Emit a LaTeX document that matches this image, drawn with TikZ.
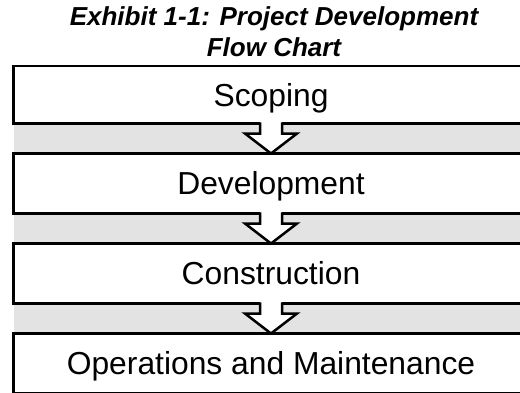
\documentclass[tikz,border=0pt]{standalone}
\usepackage{fontspec}
\setmainfont{Liberation Sans}
\usetikzlibrary{positioning,backgrounds}
\definecolor{bandgray}{RGB}{227,227,227}
\tikzset{
  stage/.style = {draw, fill=white, line width=2.5pt, outer sep=0pt, inner sep=0pt,
    minimum width=515pt, minimum height=60pt, text height=22.8pt, text depth=0pt,
    font=\fontsize{31.8}{38}\selectfont},
  band/.style = {fill=bandgray},
  hollowarrow/.style = {line width=2.5pt, miter limit=10},
}

\begin{document}
\begin{tikzpicture}[x=1pt, y=-1pt]
  \useasboundingbox (0,0) rectangle (520,392);
  \clip (0,0) rectangle (520,392);
  \node[font=\fontsize{26}{31}\selectfont\bfseries\itshape, align=center, anchor=north] (title) at (274,3) {Exhibit 1-1: Project Development\\Flow Chart};
  \node[stage, minimum height=57.5pt] (scop) at (271,94.75) {Scoping};
  \node[stage, below=30pt of scop] (dev) {Development};
  \node[stage, below=30pt of dev] (cons) {Construction};
  \node[stage, below=30pt of cons] (om) {Operations and Maintenance};
  % grey bands behind the stages
  \begin{scope}[on background layer]
    \foreach \a/\b in {scop/dev, dev/cons, cons/om}
      \fill[band] (\a.south west) rectangle (\b.north east);
  \end{scope}
  % hollow arrows from one stage to the next
  \foreach \a in {scop, dev, cons} {
    \fill[white, shift={(\a.south)}] (-11,-2) -- (-11,10) -- (-26,10) -- (0,30) -- (26,10) -- (11,10) -- (11,-2) -- cycle;
    \draw[hollowarrow, shift={(\a.south)}] (-11,-1.25) -- (-11,10) -- (-26,10) -- (0,30) -- (26,10) -- (11,10) -- (11,-1.25);
  }
\end{tikzpicture}
\end{document}
